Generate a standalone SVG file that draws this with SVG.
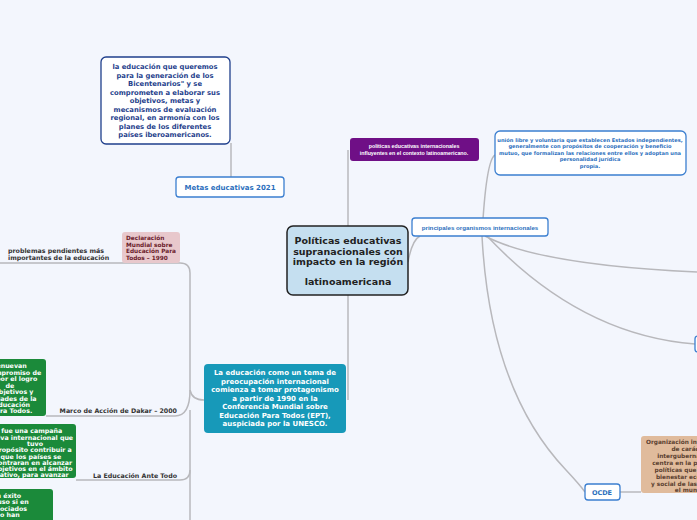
<svg xmlns="http://www.w3.org/2000/svg" width="697" height="520" viewBox="0 0 697 520">
<style>
text{font-family:"DejaVu Sans","Liberation Sans",sans-serif;font-weight:bold}
.s{font-family:"Liberation Sans",Arial,sans-serif}
.c{fill:none;stroke:#b8b8bc;stroke-width:1.5}
.w{fill:#fff;stroke:#3b7fd0;stroke-width:1.3}
.b{fill:#2c6fbd;text-anchor:middle}
.g{fill:#1b8a3a}
.gt{fill:#fff;font-size:6.3px;text-anchor:middle}
.lb{fill:#333;font-size:6.3px}
</style>
<rect width="697" height="520" fill="#f3f6fd"/>
<g id="connectors">
<path class="c" d="M348 226 V150"/>
<path class="c" d="M348 295 V400"/>
<path class="c" d="M231 143 V177"/>
<path class="c" d="M408 262 Q412 240 420 236"/>
<path class="c" d="M482 236 Q486 160 495 155"/>
<path class="c" d="M485 236 Q540 265 697 272"/>
<path class="c" d="M487 236 Q580 335 695 344"/>
<path class="c" d="M482 236 Q490 390 566 470 Q580 485 585 492"/>
<path class="c" d="M620 492 H641"/>
<path class="c" d="M204 400 Q192 400 190 390 V273 Q190 263 180 263 H0"/>
<path class="c" d="M190 390 Q190 416 175 416 H46"/>
<path class="c" d="M190 410 V470 Q190 480 180 480 H76"/>
<path class="c" d="M190 470 V520"/>
</g>
<g id="central">
<rect x="287" y="226" width="121" height="69" rx="6" fill="#c5dff0" stroke="#222" stroke-width="1.5"/>
<text x="348" y="244" text-anchor="middle" font-size="9.5" fill="#222">Políticas educativas</text>
<text x="348" y="255" text-anchor="middle" font-size="9.5" fill="#222">supranacionales con</text>
<text x="348" y="265" text-anchor="middle" font-size="9.5" fill="#222">impacto en la región</text>
<text x="348" y="285" text-anchor="middle" font-size="9.5" fill="#222">latinoamericana</text>
</g>
<g id="purple">
<rect x="350" y="138" width="129" height="23" rx="3" fill="#6f0f86"/>
<text class="s" x="414" y="148" text-anchor="middle" font-size="5.3" fill="#fff">políticas educativas internacionales</text>
<text class="s" x="414" y="155" text-anchor="middle" font-size="5.3" fill="#fff">influyentes en el contexto latinoamericano.</text>
</g>
<g id="teal">
<rect x="204" y="364" width="142" height="69" rx="4" fill="#1799b9"/>
<g fill="#fff" font-size="7" text-anchor="middle">
<text x="275" y="375">La educación como un tema de</text>
<text x="275" y="384">preocupación internacional</text>
<text x="275" y="392">comienza a tomar protagonismo</text>
<text x="275" y="401">a partir de 1990 en la</text>
<text x="275" y="409">Conferencia Mundial sobre</text>
<text x="275" y="418">Educación Para Todos (EPT),</text>
<text x="275" y="426">auspiciada por la UNESCO.</text>
</g>
</g>
<g id="metas">
<rect class="w" x="176" y="177" width="108" height="20" rx="3"/>
<text class="b" x="230" y="190" font-size="7">Metas educativas 2021</text>
</g>
<g id="metasdesc">
<rect x="101" y="57" width="129" height="87" rx="5" fill="#fff" stroke="#1f3f8c" stroke-width="1.3"/>
<g fill="#1f3f8c" font-size="6.8" text-anchor="middle">
<text x="165" y="69">la educación que queremos</text>
<text x="165" y="78">para la generación de los</text>
<text x="165" y="86">Bicentenarios" y se</text>
<text x="165" y="95">comprometen a elaborar sus</text>
<text x="165" y="103">objetivos, metas y</text>
<text x="165" y="112">mecanismos de evaluación</text>
<text x="165" y="120">regional, en armonía con los</text>
<text x="165" y="129">planes de los diferentes</text>
<text x="165" y="137">países iberoamericanos.</text>
</g>
</g>
<g id="organismos">
<rect class="w" x="412" y="218" width="136" height="18" rx="3"/>
<text class="b s" x="480" y="230" font-size="6.2">principales organismos internacionales</text>
</g>
<g id="union">
<rect class="w" x="495" y="131" width="191" height="44" rx="5"/>
<g class="b s" font-size="5.1">
<text x="590" y="142">unión libre y voluntaria que establecen Estados independientes,</text>
<text x="590" y="148">generalmente con propósitos de cooperación y beneficio</text>
<text x="590" y="155">mutuo, que formalizan las relaciones entre ellos y adoptan una</text>
<text x="590" y="161">personalidad jurídica</text>
<text x="590" y="168">propia.</text>
</g>
</g>
<g id="rightnode">
<rect class="w" x="695" y="336" width="10" height="16" rx="3"/>
</g>
<g id="ocde">
<rect class="w" x="585" y="484" width="35" height="16" rx="3"/>
<text class="b" x="602" y="495" font-size="6.5">OCDE</text>
</g>
<g id="ocdedesc">
<rect x="641" y="436" width="62" height="57" rx="3" fill="#e0bb9c"/>
<g fill="#5a4030" font-size="5.8" text-anchor="middle">
<text x="690" y="444">Organización internacional</text>
<text x="690" y="451">de carácter</text>
<text x="690" y="458">intergubernamental</text>
<text x="690" y="465">centra en la promoción</text>
<text x="690" y="472">políticas que mejoren</text>
<text x="690" y="479">bienestar económico</text>
<text x="690" y="486">y social de las personas</text>
<text x="690" y="492">el mundo</text>
</g>
</g>
<g id="declaracion">
<rect x="122" y="232" width="58" height="31" rx="3" fill="#e8c8cc"/>
<g fill="#6a1a2a" font-size="5.8">
<text x="126" y="240">Declaración</text>
<text x="126" y="247">Mundial sobre</text>
<text x="126" y="253">Educación Para</text>
<text x="126" y="260">Todos – 1990</text>
</g>
<text class="lb" x="8" y="253">problemas pendientes más</text>
<text class="lb" x="8" y="260">importantes de la educación</text>
</g>
<g id="dakar">
<text class="lb" x="177" y="413" text-anchor="end">Marco de Acción de Dakar – 2000</text>
<rect class="g" x="-5" y="359" width="51" height="57" rx="3"/>
<g class="gt">
<text x="10" y="368">renuevan</text>
<text x="14" y="375">compromiso de</text>
<text x="14" y="381">r por el logro</text>
<text x="10" y="388">de</text>
<text x="14" y="394">objetivos y</text>
<text x="14" y="401">lidades de la</text>
<text x="12" y="407">Educación</text>
<text x="14" y="413">ara Todos.</text>
</g>
</g>
<g id="anteTodo">
<text class="lb" x="177" y="478" text-anchor="end">La Educación Ante Todo</text>
<rect class="g" x="-5" y="424" width="81" height="54" rx="3"/>
<g class="gt">
<text x="27" y="433">ta fue una campaña</text>
<text x="32" y="440">ativa internacional que</text>
<text x="35" y="446">tuvo</text>
<text x="33" y="452">propósito contribuir a</text>
<text x="31" y="459">que los países se</text>
<text x="31" y="465">ncontraran en alcanzar</text>
<text x="33" y="471">objetivos en el ámbito</text>
<text x="30" y="477">ucativo, para avanzar</text>
</g>
</g>
<g id="green3">
<rect class="g" x="-5" y="489" width="58" height="40" rx="3"/>
<g class="gt" text-anchor="start">
<text x="0" y="498">ido un éxito</text>
<text x="0" y="504">do, incluso si en</text>
<text x="0" y="511">o los asociados</text>
<text x="0" y="517">EPT no han</text>
</g>
</g>
</svg>
